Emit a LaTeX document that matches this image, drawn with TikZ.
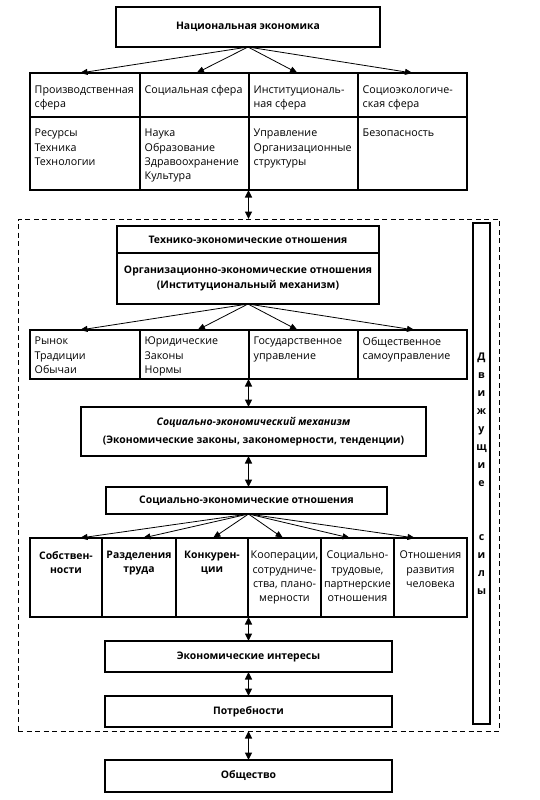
\documentclass[tikz,border=0pt]{standalone}
\usepackage{fontspec}
\setmainfont{Open Sans}
\usetikzlibrary{arrows.meta,calc}
\newcommand{\rfont}{\fontsize{10.7}{14.3}\selectfont}
\newcommand{\bfont}{\fontsize{10.4}{14.3}\selectfont\bfseries}
\begin{document}
\begin{tikzpicture}[x=1pt,y=-1pt,
  cell/.style={draw, line width=1.5pt, inner sep=0pt, outer sep=0pt, anchor=north west,
    font=\bfont, align=center},
  frame/.style={draw, dash pattern=on 5pt off 3.5pt, line width=0.9pt, inner sep=0pt, outer sep=0pt, anchor=north west},
  txt/.style={inner sep=0pt, anchor=north west, align=left, font=\rfont},
  ctxt/.style={inner sep=0pt, anchor=north, align=center, font=\rfont},
  cbtxt/.style={inner sep=0pt, anchor=north, align=center, font=\bfont},
  arr/.style={line width=0.8pt, -{Triangle[length=7.5pt,width=6pt]}},
  darr/.style={line width=1.4pt, {Triangle[length=7.5pt,width=7pt]}-{Triangle[length=7.5pt,width=7pt]}},
]
\useasboundingbox (0,0) rectangle (540,800);
\fill[white] (0,0) rectangle (540,800);

% top box
\node[cell, minimum width=264pt, minimum height=40pt] (ne) at (116,7) {Национальная экономика};

% table 1
\node[cell, minimum width=437pt, minimum height=117pt] (tab1) at (30,73) {};
\node[cell, minimum width=110pt, minimum height=44pt] (h1) at (30,73) {};
\node[cell, minimum width=109pt, minimum height=44pt] (h2) at (140,73) {};
\node[cell, minimum width=109pt, minimum height=44pt] (h3) at (249,73) {};
\node[cell, minimum width=109pt, minimum height=44pt] (h4) at (358,73) {};
\node[cell, minimum width=110pt, minimum height=73pt] (b1) at (30,117) {};
\node[cell, minimum width=109pt, minimum height=73pt] (b2) at (140,117) {};
\node[cell, minimum width=109pt, minimum height=73pt] (b3) at (249,117) {};
\node[cell, minimum width=109pt, minimum height=73pt] (b4) at (358,117) {};
\node[txt] (th1) at (34.5,85.5) {Производственная\\сфера};
\node[txt] (th2) at (144.5,85.5) {Социальная сфера};
\node[txt] (th3) at (253.5,85.5) {Институциональ-\\ная сфера};
\node[txt] (th4) at (362.5,85.5) {Социоэкологиче-\\ская сфера};
\node[txt] (tb1) at (34.5,129) {Ресурсы\\Техника\\Технологии};
\node[txt] (tb2) at (144.5,129) {Наука\\Образование\\Здравоохранение\\Культура};
\node[txt] (tb3) at (253.5,129) {Управление\\Организационные\\структуры};
\node[txt] (tb4) at (362.5,129) {Безопасность};

\draw[arr] (ne.south) -- ([xshift=-5pt]h1.north);
\draw[arr] (ne.south) -- ([xshift=2pt]h2.north);
\draw[arr] (ne.south) -- ([xshift=-6pt]h3.north);
\draw[arr] (ne.south) -- (h4.north);

% dashed frame
\node[frame, minimum width=481pt, minimum height=512pt] (fr) at (18,219) {};
\draw[darr] (tab1.south) -- (tab1.south |- fr.north);

% driving forces
\node[cell, minimum width=17pt, minimum height=501pt] (vb) at (473,223) {};
\node[inner sep=0pt, align=center, font=\fontsize{10.6}{18}\selectfont\bfseries] (vt) at (vb.center)
  {Д\\в\\и\\ж\\у\\щ\\и\\е\\[36pt]с\\и\\л\\ы};

% technical box
\node[cell, minimum width=262pt, minimum height=78pt] (tech) at (117,226) {};
\node[cell, minimum width=262pt, minimum height=27pt] (t1) at (117,226) {Технико-экономические отношения};
\node[cell, minimum width=262pt, minimum height=51pt] (t2) at (117,253) {Организационно-экономические отношения\\(Институциональный механизм)};

% row 2
\node[cell, minimum width=437pt, minimum height=49pt] (row2) at (30,330) {};
\node[cell, minimum width=110pt, minimum height=49pt] (r1) at (30,330) {};
\node[cell, minimum width=109pt, minimum height=49pt] (r2) at (140,330) {};
\node[cell, minimum width=109pt, minimum height=49pt] (r3) at (249,330) {};
\node[cell, minimum width=109pt, minimum height=49pt] (r4) at (358,330) {};
\node[txt] (tr1) at (34.5,337) {Рынок\\Традиции\\Обычаи};
\node[txt] (tr2) at (144.5,337) {Юридические\\Законы\\Нормы};
\node[txt] (tr3) at (253.5,337) {Государственное\\управление};
\node[txt] (tr4) at (362.5,337) {Общественное\\самоуправление};

\draw[arr] (tech.south) -- ([xshift=-5pt]r1.north);
\draw[arr] (tech.south) -- ([xshift=3pt]r2.north);
\draw[arr] (tech.south) -- ([xshift=-6pt]r3.north);
\draw[arr] (tech.south) -- ([xshift=2pt]r4.north);

% mechanism
\node[cell, minimum width=345pt, minimum height=49pt] (mech) at (81,407)
  {\textit{Социально-экономический механизм}\\[4pt](Экономические законы, закономерности, тенденции)};
\draw[darr] (row2.south) -- (row2.south |- mech.north);

% socio-economic relations
\node[cell, minimum width=281pt, minimum height=27pt] (soc) at (106,487) {Социально-экономические отношения};
\draw[darr] (row2.south |- mech.south) -- (row2.south |- soc.north);
\coordinate (socs) at (row2.south |- soc.south);

% six columns
\node[cell, minimum width=437pt, minimum height=79pt] (six) at (30,538) {};
\node[cell, minimum width=72pt, minimum height=79pt] (s1) at (30,538) {};
\node[cell, minimum width=74pt, minimum height=79pt] (s2) at (102,538) {};
\node[cell, minimum width=72pt, minimum height=79pt] (s3) at (176,538) {};
\node[cell, minimum width=73pt, minimum height=79pt] (s4) at (248,538) {};
\node[cell, minimum width=73pt, minimum height=79pt] (s5) at (321,538) {};
\node[cell, minimum width=73pt, minimum height=79pt] (s6) at (394,538) {};
\node[cbtxt] (ts1) at (66,551) {Собствен-\\ности};
\node[cbtxt] (ts2) at (139,551) {Разделения\\труда};
\node[cbtxt] (ts3) at (212,551) {Конкурен-\\ции};
\node[ctxt] (ts4) at (284.5,551) {Кооперации,\\сотрудниче-\\ства, плано-\\мерности};
\node[ctxt] (ts5) at (357.5,551) {Социально-\\трудовые,\\партнерские\\отношения};
\node[ctxt] (ts6) at (430.5,551) {Отношения\\развития\\человека};

\draw[arr] (socs) -- ([xshift=14pt]s1.north);
\draw[arr] (socs) -- ([xshift=4pt]s2.north);
\draw[arr] (socs) -- ([xshift=1pt]s3.north);
\draw[arr] (socs) -- ([xshift=-1.5pt]s4.north);
\draw[arr] (socs) -- ([xshift=-7.5pt]s5.north);
\draw[arr] (socs) -- ([xshift=-15.5pt]s6.north);

% bottom boxes
\node[cell, minimum width=287pt, minimum height=31pt] (ei) at (105,641) {Экономические интересы};
\node[cell, minimum width=287pt, minimum height=31pt] (po) at (105,696) {Потребности};
\node[cell, minimum width=287pt, minimum height=32pt] (ob) at (105,760) {Общество};
\draw[darr] (six.south) -- (ei.north);
\draw[darr] (ei.south) -- (po.north);
\draw[darr] (po.south |- fr.south) -- (ob.north);
\end{tikzpicture}
\end{document}
